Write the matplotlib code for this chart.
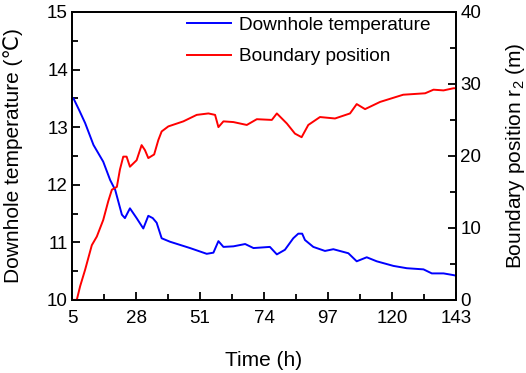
import numpy as np
import matplotlib.pyplot as plt

plt.rcParams['font.family'] = ['Liberation Sans', 'DejaVu Sans']
plt.rcParams['mathtext.fontset'] = 'custom'
plt.rcParams['mathtext.rm'] = 'Liberation Sans'

# downhole temperature (left axis)
t_temp = [5, 5.5, 7.5, 9.7, 12.7, 16.2, 18.7, 20.5, 22.9, 24.0, 25.8, 28.2, 30.6, 32.4, 34.0, 35.4, 37.2,
          40.2, 47.4, 53.4, 55.8, 57.6, 59.4, 63, 67.2, 70.2, 76.1, 78.6, 81.5, 84.5, 86.3, 87.7, 88.7,
          91.7, 95.9, 98.9, 104.3, 107.3, 110.9, 114.5, 120.5, 125.3, 131.3, 134.3, 138.5, 142.1, 143]
temp = [13.5, 13.5, 13.3, 13.07, 12.69, 12.40, 12.08, 11.91, 11.48, 11.42, 11.59, 11.42, 11.24, 11.46, 11.42,
        11.34, 11.07, 11.01, 10.90, 10.80, 10.82, 11.02, 10.92, 10.93, 10.97, 10.90, 10.92,
        10.79, 10.87, 11.07, 11.15, 11.15, 11.04, 10.92, 10.85, 10.88, 10.81, 10.67, 10.74, 10.67, 10.59,
        10.55, 10.53, 10.46, 10.46, 10.43, 10.42]

# boundary position r2 (right axis)
t_pos = [5, 6.7, 7.9, 9.7, 12.1, 13.9, 16.2, 18.0, 19.3, 21.1, 22.2, 23.4, 24.6, 25.8, 28.2, 30.0, 31.2,
         32.4, 34.5, 36.0, 37.2, 39.6, 45.0, 49.8, 54.0, 56.4, 57.6, 59.4, 63, 67.8, 71.4, 76.8, 78.6, 82.2,
         85.1, 87.5, 89.9, 94.1, 99.5, 104.9, 107.3, 110.3, 115.7, 124.0, 131.9, 134.9, 138.5, 142.1, 143]
pos = [0, 0, 1.9, 4.2, 7.6, 8.8, 11.1, 13.7, 15.3, 15.7, 18.1, 19.9, 19.9, 18.5, 19.4, 21.5, 20.8,
       19.7, 20.2, 22.2, 23.4, 24.1, 24.8, 25.7, 25.9, 25.7, 24.0, 24.8, 24.7, 24.3, 25.1, 25.0, 25.9, 24.5,
       23.1, 22.6, 24.3, 25.4, 25.2, 25.9, 27.2, 26.5, 27.5, 28.5, 28.7, 29.2, 29.1, 29.4, 29.4]

fig = plt.figure(figsize=(5.26, 3.73), dpi=100)
ax = fig.add_axes([0.137, 0.196, 0.730, 0.772])
ax2 = ax.twinx()

l1, = ax.plot(t_temp, temp, color='#0000ff', lw=1.4)
l2, = ax2.plot(t_pos, pos, color='#ff0000', lw=1.4)

ax.set_xlim(5, 143)
ax.set_ylim(10, 15)
ax2.set_ylim(0, 40)
ax.set_xticks([5, 28, 51, 74, 97, 120, 143])
ax.set_xticks(np.arange(16.5, 143, 23), minor=True)
ax.set_yticks([10, 11, 12, 13, 14, 15])
ax.set_yticks(np.arange(10.5, 15, 1), minor=True)
ax2.set_yticks([0, 10, 20, 30, 40])
ax2.set_yticks([5, 15, 25, 35], minor=True)

for a in (ax, ax2):
    a.tick_params(which='both', direction='in', labelsize=13.5, width=1.3, pad=3)
    a.tick_params(which='major', length=6)
    a.tick_params(which='minor', length=4)
    for s in a.spines.values():
        s.set_linewidth(1.3)
ax.tick_params(axis='x', pad=7)

ax.set_xlabel('Time (h)', fontsize=15)
ax.set_ylabel('Downhole temperature (℃)', fontsize=15)
ax2.set_ylabel('Boundary position r$_\\mathregular{2}$ (m)', fontsize=15)
ax.xaxis.set_label_coords(0.5, -0.178)
ax.yaxis.set_label_coords(-0.127, 0.5)
ax2.yaxis.set_label_coords(1.125, 0.5)

ax.legend([l1, l2], ['Downhole temperature', 'Boundary position'], loc='upper left',
          bbox_to_anchor=(0.30, 0.985), frameon=False, fontsize=13.7, borderpad=0,
          borderaxespad=0, handlelength=2.3, handletextpad=0.4, labelspacing=0.75)

fig.savefig('out.png', dpi=100)
